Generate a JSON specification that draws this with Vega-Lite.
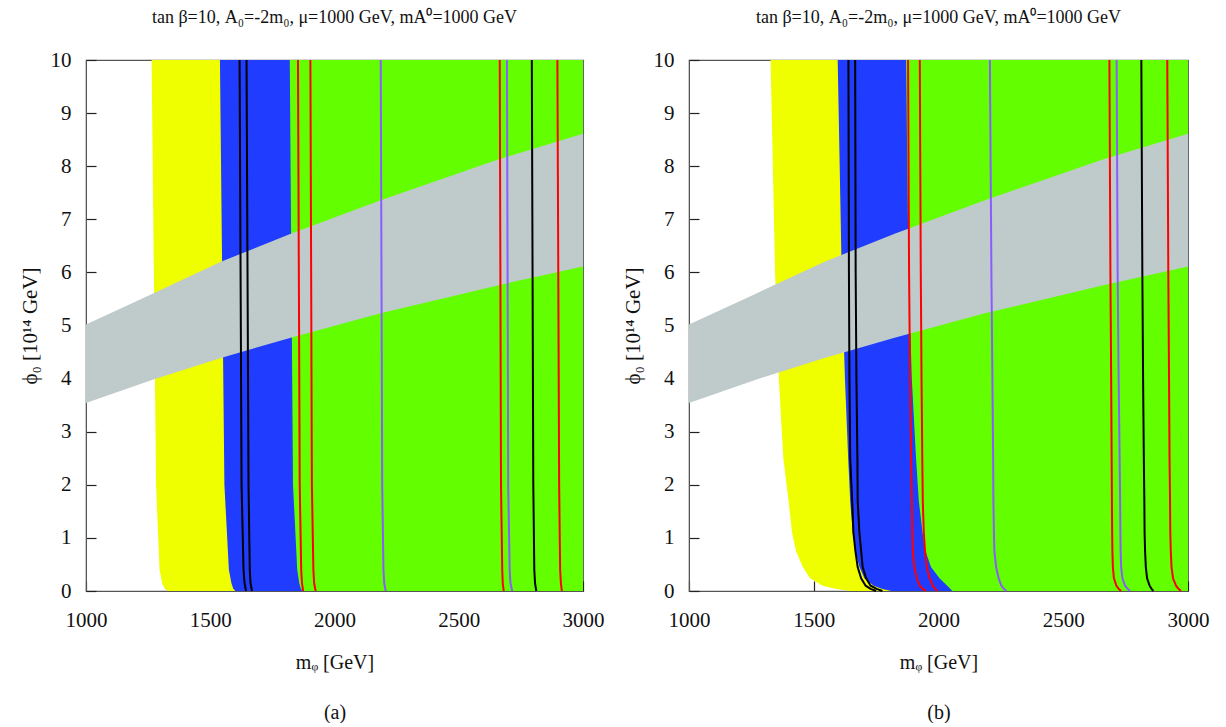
{
  "$schema": "https://vega.github.io/schema/vega-lite/v6.json",
  "background": "white",
  "padding": {"left": 18, "top": 8, "right": 0, "bottom": 0},
  "spacing": 16,
  "config": {
    "font": "Liberation Serif",
    "view": {"stroke": "#555555", "strokeWidth": 1.2},
    "axis": {
      "grid": false,
      "domainColor": "#555555",
      "tickColor": "#222222",
      "tickWidth": 1.2,
      "tickSize": -10,
      "format": "d",
      "labelFont": "Liberation Serif",
      "labelFontSize": 21,
      "labelColor": "#111111",
      "labelFlush": false,
      "labelOverlap": false,
      "titleFont": "Liberation Serif",
      "titleFontWeight": "normal",
      "titleColor": "#111111"
    },
    "title": {"font": "Liberation Serif", "fontSize": 18, "fontWeight": "normal", "color": "#111111"}
  },
  "datasets": {
    "curves": [
      {"p": "a", "c": "yellow", "phi": 10, "m": 1264}, {"p": "a", "c": "yellow", "phi": 2, "m": 1282}, {"p": "a", "c": "yellow", "phi": 0.4, "m": 1296}, {"p": "a", "c": "yellow", "phi": 0.15, "m": 1306}, {"p": "a", "c": "yellow", "phi": 0.05, "m": 1316}, {"p": "a", "c": "yellow", "phi": 0, "m": 1328},
      {"p": "a", "c": "blue", "phi": 10, "m": 1539}, {"p": "a", "c": "blue", "phi": 2, "m": 1557}, {"p": "a", "c": "blue", "phi": 0.4, "m": 1575}, {"p": "a", "c": "blue", "phi": 0.15, "m": 1585}, {"p": "a", "c": "blue", "phi": 0.05, "m": 1592}, {"p": "a", "c": "blue", "phi": 0, "m": 1601},
      {"p": "a", "c": "green", "phi": 10, "m": 1820}, {"p": "a", "c": "green", "phi": 2, "m": 1833}, {"p": "a", "c": "green", "phi": 0.4, "m": 1850}, {"p": "a", "c": "green", "phi": 0.15, "m": 1858}, {"p": "a", "c": "green", "phi": 0.05, "m": 1864}, {"p": "a", "c": "green", "phi": 0, "m": 1870},
      {"p": "a", "c": "black1", "k": "black", "phi": 10, "m": 1618}, {"p": "a", "c": "black1", "k": "black", "phi": 2, "m": 1626}, {"p": "a", "c": "black1", "k": "black", "phi": 0.4, "m": 1634}, {"p": "a", "c": "black1", "k": "black", "phi": 0.15, "m": 1638}, {"p": "a", "c": "black1", "k": "black", "phi": 0, "m": 1644},
      {"p": "a", "c": "black2", "k": "black", "phi": 10, "m": 1646}, {"p": "a", "c": "black2", "k": "black", "phi": 2, "m": 1654}, {"p": "a", "c": "black2", "k": "black", "phi": 0.4, "m": 1659}, {"p": "a", "c": "black2", "k": "black", "phi": 0.15, "m": 1662}, {"p": "a", "c": "black2", "k": "black", "phi": 0, "m": 1668},
      {"p": "a", "c": "red1", "k": "red", "phi": 10, "m": 1853}, {"p": "a", "c": "red1", "k": "red", "phi": 2, "m": 1860}, {"p": "a", "c": "red1", "k": "red", "phi": 0.4, "m": 1866}, {"p": "a", "c": "red1", "k": "red", "phi": 0.15, "m": 1869}, {"p": "a", "c": "red1", "k": "red", "phi": 0, "m": 1874},
      {"p": "a", "c": "red2", "k": "red", "phi": 10, "m": 1903}, {"p": "a", "c": "red2", "k": "red", "phi": 2, "m": 1909}, {"p": "a", "c": "red2", "k": "red", "phi": 0.4, "m": 1915}, {"p": "a", "c": "red2", "k": "red", "phi": 0.15, "m": 1918}, {"p": "a", "c": "red2", "k": "red", "phi": 0, "m": 1924},
      {"p": "a", "c": "purple1", "k": "purple", "phi": 10, "m": 2186}, {"p": "a", "c": "purple1", "k": "purple", "phi": 2, "m": 2192}, {"p": "a", "c": "purple1", "k": "purple", "phi": 0.4, "m": 2197}, {"p": "a", "c": "purple1", "k": "purple", "phi": 0.15, "m": 2200}, {"p": "a", "c": "purple1", "k": "purple", "phi": 0, "m": 2206},
      {"p": "a", "c": "red3", "k": "red", "phi": 10, "m": 2665}, {"p": "a", "c": "red3", "k": "red", "phi": 2, "m": 2670}, {"p": "a", "c": "red3", "k": "red", "phi": 0.4, "m": 2675}, {"p": "a", "c": "red3", "k": "red", "phi": 0.15, "m": 2677}, {"p": "a", "c": "red3", "k": "red", "phi": 0, "m": 2681},
      {"p": "a", "c": "purple2", "k": "purple", "phi": 10, "m": 2694}, {"p": "a", "c": "purple2", "k": "purple", "phi": 2, "m": 2699}, {"p": "a", "c": "purple2", "k": "purple", "phi": 0.4, "m": 2705}, {"p": "a", "c": "purple2", "k": "purple", "phi": 0.15, "m": 2708}, {"p": "a", "c": "purple2", "k": "purple", "phi": 0, "m": 2715},
      {"p": "a", "c": "black3", "k": "black", "phi": 10, "m": 2794}, {"p": "a", "c": "black3", "k": "black", "phi": 2, "m": 2800}, {"p": "a", "c": "black3", "k": "black", "phi": 0.4, "m": 2804}, {"p": "a", "c": "black3", "k": "black", "phi": 0.15, "m": 2807}, {"p": "a", "c": "black3", "k": "black", "phi": 0, "m": 2812},
      {"p": "a", "c": "red4", "k": "red", "phi": 10, "m": 2897}, {"p": "a", "c": "red4", "k": "red", "phi": 2, "m": 2904}, {"p": "a", "c": "red4", "k": "red", "phi": 0.4, "m": 2908}, {"p": "a", "c": "red4", "k": "red", "phi": 0.15, "m": 2911}, {"p": "a", "c": "red4", "k": "red", "phi": 0, "m": 2915},

      {"p": "b", "c": "yellow", "phi": 10, "m": 1327}, {"p": "b", "c": "yellow", "phi": 6, "m": 1345}, {"p": "b", "c": "yellow", "phi": 4, "m": 1360}, {"p": "b", "c": "yellow", "phi": 2.5, "m": 1378}, {"p": "b", "c": "yellow", "phi": 1.7, "m": 1399}, {"p": "b", "c": "yellow", "phi": 1.1, "m": 1413}, {"p": "b", "c": "yellow", "phi": 0.75, "m": 1429}, {"p": "b", "c": "yellow", "phi": 0.45, "m": 1456}, {"p": "b", "c": "yellow", "phi": 0.24, "m": 1485}, {"p": "b", "c": "yellow", "phi": 0.1, "m": 1536}, {"p": "b", "c": "yellow", "phi": 0.04, "m": 1590}, {"p": "b", "c": "yellow", "phi": 0, "m": 1650},
      {"p": "b", "c": "blue", "phi": 10, "m": 1596}, {"p": "b", "c": "blue", "phi": 6, "m": 1612}, {"p": "b", "c": "blue", "phi": 4, "m": 1625}, {"p": "b", "c": "blue", "phi": 2.5, "m": 1638}, {"p": "b", "c": "blue", "phi": 1.7, "m": 1646}, {"p": "b", "c": "blue", "phi": 1.1, "m": 1656}, {"p": "b", "c": "blue", "phi": 0.75, "m": 1667}, {"p": "b", "c": "blue", "phi": 0.45, "m": 1683}, {"p": "b", "c": "blue", "phi": 0.24, "m": 1703}, {"p": "b", "c": "blue", "phi": 0.1, "m": 1740}, {"p": "b", "c": "blue", "phi": 0.04, "m": 1775}, {"p": "b", "c": "blue", "phi": 0, "m": 1810},
      {"p": "b", "c": "green", "phi": 10, "m": 1870}, {"p": "b", "c": "green", "phi": 6, "m": 1880}, {"p": "b", "c": "green", "phi": 4, "m": 1893}, {"p": "b", "c": "green", "phi": 2.5, "m": 1910}, {"p": "b", "c": "green", "phi": 1.7, "m": 1921}, {"p": "b", "c": "green", "phi": 1.1, "m": 1936}, {"p": "b", "c": "green", "phi": 0.75, "m": 1948}, {"p": "b", "c": "green", "phi": 0.45, "m": 1970}, {"p": "b", "c": "green", "phi": 0.24, "m": 2004}, {"p": "b", "c": "green", "phi": 0.1, "m": 2035}, {"p": "b", "c": "green", "phi": 0.04, "m": 2048}, {"p": "b", "c": "green", "phi": 0, "m": 2055},
      {"p": "b", "c": "black1", "k": "black", "phi": 10, "m": 1639}, {"p": "b", "c": "black1", "k": "black", "phi": 6, "m": 1641}, {"p": "b", "c": "black1", "k": "black", "phi": 4, "m": 1643}, {"p": "b", "c": "black1", "k": "black", "phi": 2.5, "m": 1646}, {"p": "b", "c": "black1", "k": "black", "phi": 1.7, "m": 1654}, {"p": "b", "c": "black1", "k": "black", "phi": 1.1, "m": 1659}, {"p": "b", "c": "black1", "k": "black", "phi": 0.75, "m": 1667}, {"p": "b", "c": "black1", "k": "black", "phi": 0.45, "m": 1676}, {"p": "b", "c": "black1", "k": "black", "phi": 0.24, "m": 1690}, {"p": "b", "c": "black1", "k": "black", "phi": 0.1, "m": 1708}, {"p": "b", "c": "black1", "k": "black", "phi": 0.04, "m": 1728}, {"p": "b", "c": "black1", "k": "black", "phi": 0, "m": 1750},
      {"p": "b", "c": "black2", "k": "black", "phi": 10, "m": 1666}, {"p": "b", "c": "black2", "k": "black", "phi": 6, "m": 1668}, {"p": "b", "c": "black2", "k": "black", "phi": 4, "m": 1671}, {"p": "b", "c": "black2", "k": "black", "phi": 2.5, "m": 1675}, {"p": "b", "c": "black2", "k": "black", "phi": 1.7, "m": 1676}, {"p": "b", "c": "black2", "k": "black", "phi": 1.1, "m": 1683}, {"p": "b", "c": "black2", "k": "black", "phi": 0.75, "m": 1690}, {"p": "b", "c": "black2", "k": "black", "phi": 0.45, "m": 1696}, {"p": "b", "c": "black2", "k": "black", "phi": 0.24, "m": 1710}, {"p": "b", "c": "black2", "k": "black", "phi": 0.1, "m": 1728}, {"p": "b", "c": "black2", "k": "black", "phi": 0.04, "m": 1752}, {"p": "b", "c": "black2", "k": "black", "phi": 0, "m": 1775},
      {"p": "b", "c": "red1", "k": "red", "phi": 10, "m": 1878}, {"p": "b", "c": "red1", "k": "red", "phi": 6, "m": 1882}, {"p": "b", "c": "red1", "k": "red", "phi": 4, "m": 1886}, {"p": "b", "c": "red1", "k": "red", "phi": 2.5, "m": 1890}, {"p": "b", "c": "red1", "k": "red", "phi": 1.7, "m": 1893}, {"p": "b", "c": "red1", "k": "red", "phi": 1.1, "m": 1895}, {"p": "b", "c": "red1", "k": "red", "phi": 0.75, "m": 1897}, {"p": "b", "c": "red1", "k": "red", "phi": 0.45, "m": 1903}, {"p": "b", "c": "red1", "k": "red", "phi": 0.24, "m": 1913}, {"p": "b", "c": "red1", "k": "red", "phi": 0.1, "m": 1925}, {"p": "b", "c": "red1", "k": "red", "phi": 0.04, "m": 1937}, {"p": "b", "c": "red1", "k": "red", "phi": 0, "m": 1950},
      {"p": "b", "c": "red2", "k": "red", "phi": 10, "m": 1925}, {"p": "b", "c": "red2", "k": "red", "phi": 6, "m": 1929}, {"p": "b", "c": "red2", "k": "red", "phi": 4, "m": 1932}, {"p": "b", "c": "red2", "k": "red", "phi": 2.5, "m": 1935}, {"p": "b", "c": "red2", "k": "red", "phi": 1.7, "m": 1937}, {"p": "b", "c": "red2", "k": "red", "phi": 1.1, "m": 1941}, {"p": "b", "c": "red2", "k": "red", "phi": 0.75, "m": 1946}, {"p": "b", "c": "red2", "k": "red", "phi": 0.45, "m": 1953}, {"p": "b", "c": "red2", "k": "red", "phi": 0.24, "m": 1964}, {"p": "b", "c": "red2", "k": "red", "phi": 0.1, "m": 1977}, {"p": "b", "c": "red2", "k": "red", "phi": 0.04, "m": 1987}, {"p": "b", "c": "red2", "k": "red", "phi": 0, "m": 1995},
      {"p": "b", "c": "purple1", "k": "purple", "phi": 10, "m": 2206}, {"p": "b", "c": "purple1", "k": "purple", "phi": 6, "m": 2212}, {"p": "b", "c": "purple1", "k": "purple", "phi": 4, "m": 2216}, {"p": "b", "c": "purple1", "k": "purple", "phi": 2.5, "m": 2219}, {"p": "b", "c": "purple1", "k": "purple", "phi": 1.7, "m": 2220}, {"p": "b", "c": "purple1", "k": "purple", "phi": 1.1, "m": 2222}, {"p": "b", "c": "purple1", "k": "purple", "phi": 0.75, "m": 2224}, {"p": "b", "c": "purple1", "k": "purple", "phi": 0.45, "m": 2231}, {"p": "b", "c": "purple1", "k": "purple", "phi": 0.24, "m": 2241}, {"p": "b", "c": "purple1", "k": "purple", "phi": 0.1, "m": 2252}, {"p": "b", "c": "purple1", "k": "purple", "phi": 0.04, "m": 2262}, {"p": "b", "c": "purple1", "k": "purple", "phi": 0, "m": 2272},
      {"p": "b", "c": "red3", "k": "red", "phi": 10, "m": 2685}, {"p": "b", "c": "red3", "k": "red", "phi": 6, "m": 2689}, {"p": "b", "c": "red3", "k": "red", "phi": 4, "m": 2692}, {"p": "b", "c": "red3", "k": "red", "phi": 2.5, "m": 2694}, {"p": "b", "c": "red3", "k": "red", "phi": 1.7, "m": 2695}, {"p": "b", "c": "red3", "k": "red", "phi": 1.1, "m": 2696}, {"p": "b", "c": "red3", "k": "red", "phi": 0.75, "m": 2697}, {"p": "b", "c": "red3", "k": "red", "phi": 0.45, "m": 2699}, {"p": "b", "c": "red3", "k": "red", "phi": 0.24, "m": 2703}, {"p": "b", "c": "red3", "k": "red", "phi": 0.1, "m": 2713}, {"p": "b", "c": "red3", "k": "red", "phi": 0.04, "m": 2722}, {"p": "b", "c": "red3", "k": "red", "phi": 0, "m": 2732},
      {"p": "b", "c": "purple2", "k": "purple", "phi": 10, "m": 2714}, {"p": "b", "c": "purple2", "k": "purple", "phi": 6, "m": 2718}, {"p": "b", "c": "purple2", "k": "purple", "phi": 4, "m": 2722}, {"p": "b", "c": "purple2", "k": "purple", "phi": 2.5, "m": 2726}, {"p": "b", "c": "purple2", "k": "purple", "phi": 1.7, "m": 2728}, {"p": "b", "c": "purple2", "k": "purple", "phi": 1.1, "m": 2729}, {"p": "b", "c": "purple2", "k": "purple", "phi": 0.75, "m": 2730}, {"p": "b", "c": "purple2", "k": "purple", "phi": 0.45, "m": 2732}, {"p": "b", "c": "purple2", "k": "purple", "phi": 0.24, "m": 2737}, {"p": "b", "c": "purple2", "k": "purple", "phi": 0.1, "m": 2748}, {"p": "b", "c": "purple2", "k": "purple", "phi": 0.04, "m": 2758}, {"p": "b", "c": "purple2", "k": "purple", "phi": 0, "m": 2768},
      {"p": "b", "c": "black3", "k": "black", "phi": 10, "m": 2813}, {"p": "b", "c": "black3", "k": "black", "phi": 6, "m": 2817}, {"p": "b", "c": "black3", "k": "black", "phi": 4, "m": 2820}, {"p": "b", "c": "black3", "k": "black", "phi": 2.5, "m": 2823}, {"p": "b", "c": "black3", "k": "black", "phi": 1.7, "m": 2825}, {"p": "b", "c": "black3", "k": "black", "phi": 1.1, "m": 2826}, {"p": "b", "c": "black3", "k": "black", "phi": 0.75, "m": 2828}, {"p": "b", "c": "black3", "k": "black", "phi": 0.45, "m": 2831}, {"p": "b", "c": "black3", "k": "black", "phi": 0.24, "m": 2836}, {"p": "b", "c": "black3", "k": "black", "phi": 0.1, "m": 2846}, {"p": "b", "c": "black3", "k": "black", "phi": 0.04, "m": 2854}, {"p": "b", "c": "black3", "k": "black", "phi": 0, "m": 2861},
      {"p": "b", "c": "red4", "k": "red", "phi": 10, "m": 2917}, {"p": "b", "c": "red4", "k": "red", "phi": 6, "m": 2921}, {"p": "b", "c": "red4", "k": "red", "phi": 4, "m": 2924}, {"p": "b", "c": "red4", "k": "red", "phi": 2.5, "m": 2926}, {"p": "b", "c": "red4", "k": "red", "phi": 1.7, "m": 2928}, {"p": "b", "c": "red4", "k": "red", "phi": 1.1, "m": 2929}, {"p": "b", "c": "red4", "k": "red", "phi": 0.75, "m": 2931}, {"p": "b", "c": "red4", "k": "red", "phi": 0.45, "m": 2934}, {"p": "b", "c": "red4", "k": "red", "phi": 0.24, "m": 2940}, {"p": "b", "c": "red4", "k": "red", "phi": 0.1, "m": 2952}, {"p": "b", "c": "red4", "k": "red", "phi": 0.04, "m": 2962}, {"p": "b", "c": "red4", "k": "red", "phi": 0, "m": 2972}
    ],
    "band": [
      {"m": 1000, "lo": 3.54, "hi": 5.02},
      {"m": 1268, "lo": 3.98, "hi": 5.60},
      {"m": 1543, "lo": 4.39, "hi": 6.20},
      {"m": 1824, "lo": 4.77, "hi": 6.73},
      {"m": 2186, "lo": 5.23, "hi": 7.36},
      {"m": 2661, "lo": 5.76, "hi": 8.13},
      {"m": 3000, "lo": 6.11, "hi": 8.61}
    ]
  },
  "hconcat": [
    {
      "width": 497,
      "height": 531,
      "title": {"text": "tan β=10, A₀=-2m₀, μ=1000 GeV, mA⁰=1000 GeV", "offset": 22},
      "encoding": {
        "x": {"field": "m", "type": "quantitative", "scale": {"domain": [1000, 3000], "nice": false},
              "axis": {"values": [1000, 1500, 2000, 2500, 3000], "title": ["mᵩ [GeV]", "(a)"], "titleFontSize": 20, "titleLineHeight": 50, "titlePadding": 22, "labelPadding": 28}},
        "y": {"field": "phi", "type": "quantitative", "scale": {"domain": [0, 10], "nice": false},
              "axis": {"values": [0, 1, 2, 3, 4, 5, 6, 7, 8, 9, 10], "title": "ϕ₀ [10¹⁴ GeV]", "titleFontSize": 21, "titlePadding": 10, "labelPadding": 25}}
      },
      "layer": [
        {"data": {"name": "curves"}, "transform": [{"filter": "datum.p == 'a' && datum.c == 'yellow'"}],
         "mark": {"type": "area", "orient": "horizontal", "color": "#f0ff00"}, "encoding": {"x2": {"datum": 3000}}},
        {"data": {"name": "curves"}, "transform": [{"filter": "datum.p == 'a' && datum.c == 'blue'"}],
         "mark": {"type": "area", "orient": "horizontal", "color": "#1f3cff"}, "encoding": {"x2": {"datum": 3000}}},
        {"data": {"name": "curves"}, "transform": [{"filter": "datum.p == 'a' && datum.c == 'green'"}],
         "mark": {"type": "area", "orient": "horizontal", "color": "#63ff00"}, "encoding": {"x2": {"datum": 3000}}},
        {"data": {"name": "band"},
         "mark": {"type": "area", "color": "#bfcaca"}, "encoding": {"y": {"field": "lo", "type": "quantitative"}, "y2": {"field": "hi"}}},
        {"data": {"name": "curves"}, "transform": [{"filter": "datum.p == 'a' && datum.k != null"}],
         "mark": {"type": "line", "strokeWidth": 2},
         "encoding": {"detail": {"field": "c"}, "order": {"field": "phi", "type": "quantitative"},
                      "color": {"field": "k", "type": "nominal", "legend": null, "scale": {"domain": ["black", "red", "purple"], "range": ["#000000", "#ff0000", "#8a5cff"]}}}}
      ]
    },
    {
      "width": 499,
      "height": 531,
      "title": {"text": "tan β=10, A₀=-2m₀, μ=1000 GeV, mA⁰=1000 GeV", "offset": 22},
      "encoding": {
        "x": {"field": "m", "type": "quantitative", "scale": {"domain": [1000, 3000], "nice": false},
              "axis": {"values": [1000, 1500, 2000, 2500, 3000], "title": ["mᵩ [GeV]", "(b)"], "titleFontSize": 20, "titleLineHeight": 50, "titlePadding": 22, "labelPadding": 28}},
        "y": {"field": "phi", "type": "quantitative", "scale": {"domain": [0, 10], "nice": false},
              "axis": {"values": [0, 1, 2, 3, 4, 5, 6, 7, 8, 9, 10], "title": "ϕ₀ [10¹⁴ GeV]", "titleFontSize": 21, "titlePadding": 10, "labelPadding": 25}}
      },
      "layer": [
        {"data": {"name": "curves"}, "transform": [{"filter": "datum.p == 'b' && datum.c == 'yellow'"}],
         "mark": {"type": "area", "orient": "horizontal", "color": "#f0ff00"}, "encoding": {"x2": {"datum": 3000}}},
        {"data": {"name": "curves"}, "transform": [{"filter": "datum.p == 'b' && datum.c == 'blue'"}],
         "mark": {"type": "area", "orient": "horizontal", "color": "#1f3cff"}, "encoding": {"x2": {"datum": 3000}}},
        {"data": {"name": "curves"}, "transform": [{"filter": "datum.p == 'b' && datum.c == 'green'"}],
         "mark": {"type": "area", "orient": "horizontal", "color": "#63ff00"}, "encoding": {"x2": {"datum": 3000}}},
        {"data": {"name": "band"},
         "mark": {"type": "area", "color": "#bfcaca"}, "encoding": {"y": {"field": "lo", "type": "quantitative"}, "y2": {"field": "hi"}}},
        {"data": {"name": "curves"}, "transform": [{"filter": "datum.p == 'b' && datum.k != null"}],
         "mark": {"type": "line", "strokeWidth": 2},
         "encoding": {"detail": {"field": "c"}, "order": {"field": "phi", "type": "quantitative"},
                      "color": {"field": "k", "type": "nominal", "legend": null, "scale": {"domain": ["black", "red", "purple"], "range": ["#000000", "#ff0000", "#8a5cff"]}}}}
      ]
    }
  ]
}
